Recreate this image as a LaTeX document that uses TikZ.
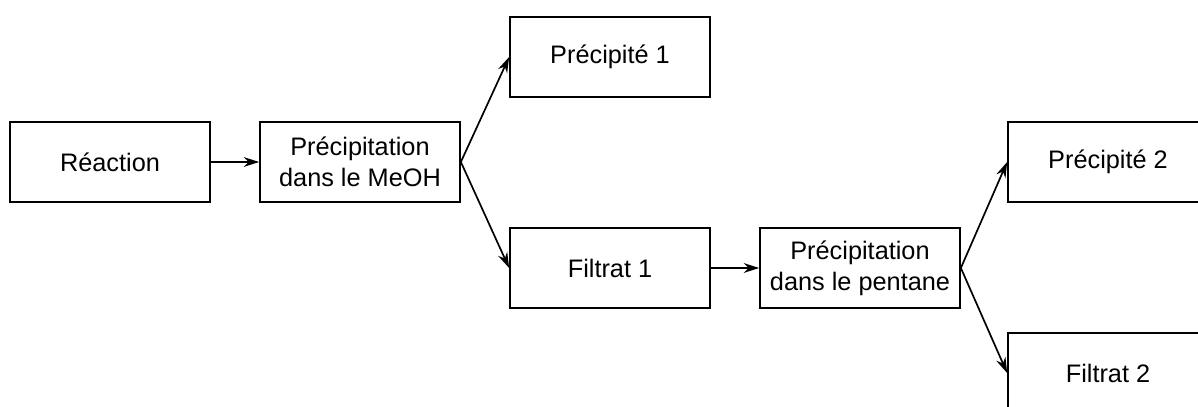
\documentclass[tikz,border=0pt]{standalone}
\usepackage{fontspec}
\setmainfont{Liberation Sans}
\usetikzlibrary{arrows.meta}

\begin{document}
\begin{tikzpicture}[x=0.025cm, y=-0.025cm,
    every node/.style={font=\fontsize{18}{22}\selectfont},
    stepbox/.style={draw, line width=1.2pt, minimum width=5cm, minimum height=2cm, align=center},
    flow/.style={-{Stealth[length=11pt,width=7pt]}, line width=1.2pt}]
    \clip (0,0) rectangle (1198,407);

    % boxes
    \node[stepbox] (reaction) at (110,162) {Réaction};
    \node[stepbox] (meoh) at (360,162) {Précipitation\\dans le MeOH};
    \node[stepbox] (precip1) at (610,57) {Précipité 1};
    \node[stepbox] (filtrat1) at (610,268) {Filtrat 1};
    \node[stepbox] (pentane) at (860,268) {Précipitation\\dans le pentane};
    \node[stepbox] (precip2) at (1108,162) {Précipité 2};
    \node[stepbox] (filtrat2) at (1108,373) {Filtrat 2};

    % arrows
    \draw[flow] (reaction) -- (meoh);
    \draw[flow] (meoh.east) -- (precip1.west);
    \draw[flow] (meoh.east) -- (filtrat1.west);
    \draw[flow] (filtrat1) -- (pentane);
    \draw[flow] (pentane.east) -- (precip2.west);
    \draw[flow] (pentane.east) -- (filtrat2.west);
\end{tikzpicture}
\end{document}
